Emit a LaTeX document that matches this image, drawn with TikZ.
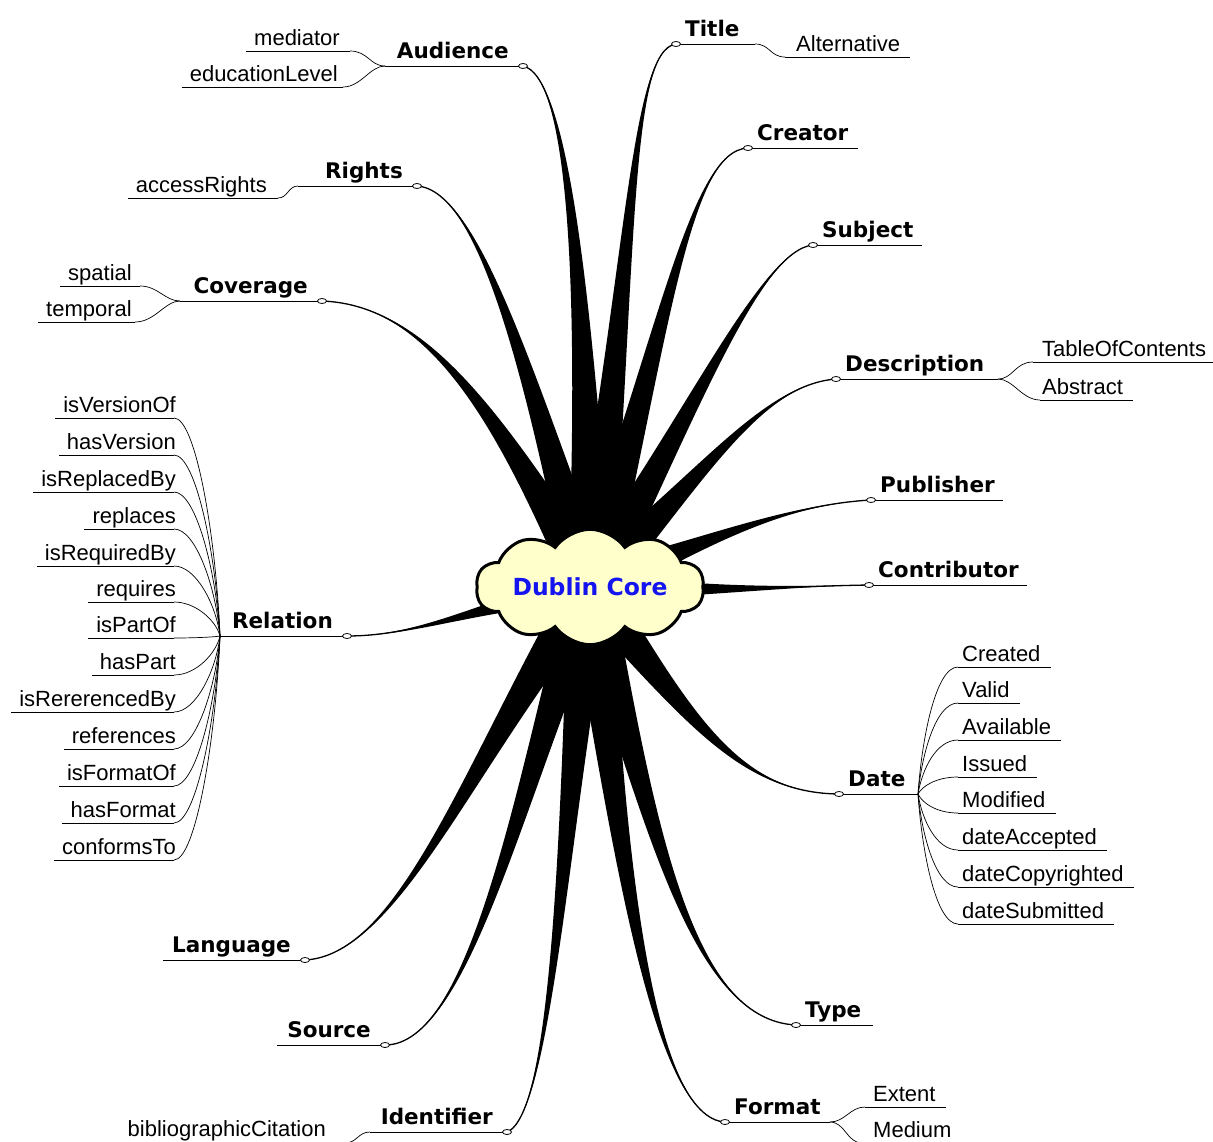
\documentclass[tikz,border=0pt]{standalone}
\usepackage{fontspec}
\setmainfont{Liberation Sans}
\newfontfamily\headfont{DejaVu Sans}
\usetikzlibrary{calc,shapes.symbols}

\definecolor{cloudyellow}{RGB}{255,255,204}
\definecolor{coreblue}{RGB}{20,20,240}

\tikzset{
  head/.style={font=\headfont\bfseries\fontsize{21.5}{24}\selectfont, inner sep=0pt},
  leaf/.style={font=\fontsize{22}{24}\selectfont, inner sep=0pt},
  uline/.style={line width=0.9pt},
  twig/.style={line width=0.7pt},
  knob/.style={draw, fill=white, line width=0.8pt},
}

% tapered spike from #1 to #4 with controls #2 and #3, half width #5
\newcommand{\drawspike}[5]{%
  \fill ($(#1)!#5!90:(#2)$) .. controls ($(#2)!0.2*#5!-90:(#1)$) and (#3) .. (#4)
    .. controls (#3) and ($(#2)!0.2*#5!90:(#1)$) .. ($(#1)!#5!-90:(#2)$) -- cycle;
  \draw[line width=1.3pt] (#1) .. controls (#2) and (#3) .. (#4);
}

\begin{document}
\begin{tikzpicture}[x=1pt,y=-1pt]
\useasboundingbox (0,0) rectangle (1213,1141);
\coordinate (core) at (590,587);

% knob and fork point of every term
\foreach \name/\kx/\ky/\fx in {title/676/44/755, creator/748/148/858,
    subject/813/245/922, description/836/379/998, publisher/871/500/1003,
    contributor/869/585/1027, date/839/794/918, type/796/1025/873,
    format/725/1122/830, audience/523/66/385, rights/417/186/298,
    coverage/322/301/180, relation/347/636/220, language/305/960/163,
    source/385/1045/277, identifier/507/1132/370} {
  \coordinate (\name-k) at (\kx,\ky);
  \coordinate (\name-f) at (\fx,\ky);
}

% spikes
\drawspike{core}{632,260}{630,50}{title-k}{22pt}
\drawspike{core}{585,260}{565,75}{audience-k}{22pt}
\drawspike{core}{665,330}{690,150}{creator-k}{22pt}
\drawspike{core}{690,420}{760,250}{subject-k}{22pt}
\drawspike{core}{700,480}{760,385}{description-k}{22pt}
\drawspike{core}{700,545}{780,505}{publisher-k}{20pt}
\drawspike{core}{720,592}{800,586}{contributor-k}{14pt}
\drawspike{core}{690,720}{740,793}{date-k}{22pt}
\drawspike{core}{650,820}{690,1020}{type-k}{22pt}
\drawspike{core}{620,870}{655,1118}{format-k}{22pt}
\drawspike{core}{565,820}{552,1115}{identifier-k}{22pt}
\drawspike{core}{520,790}{470,1045}{source-k}{22pt}
\drawspike{core}{470,760}{400,955}{language-k}{22pt}
\drawspike{core}{480,605}{420,636}{relation-k}{16pt}
\drawspike{core}{500,420}{430,305}{coverage-k}{22pt}
\drawspike{core}{530,380}{480,190}{rights-k}{22pt}

\node[cloud, cloud puffs=10, cloud puff arc=110, aspect=2.6, draw, line width=3pt,
  fill=cloudyellow, minimum width=228pt, minimum height=88pt, inner sep=0pt,
  font=\headfont\bfseries\fontsize{23.5}{26}\selectfont, text=coreblue] (dc) at (core) {Dublin Core};

% main terms
\foreach \name/\txt/\anc/\dx in {title/Title/west/9, creator/Creator/west/9,
    subject/Subject/west/9, description/Description/west/9,
    publisher/Publisher/west/9, contributor/Contributor/west/9,
    date/Date/west/9, type/Type/west/9, format/Format/west/9,
    audience/Audience/east/-14, rights/Rights/east/-14,
    coverage/Coverage/east/-14, relation/Relation/east/-14,
    language/Language/east/-14, source/Source/east/-14,
    identifier/Identifier/east/-14} {
  \draw[uline] (\name-f) -- (\name-k);
  \draw[knob] (\name-k) ellipse [x radius=4.5pt, y radius=2.5pt];
  \node[head, anchor=base \anc] (\name) at ($(\name-k)+(\dx,-8)$) {\txt};
}

% Relation refinements
\foreach \txt/\y [count=\i] in {isVersionOf/418, hasVersion/455, isReplacedBy/492,
    replaces/529, isRequiredBy/566, requires/602, isPartOf/638, hasPart/675,
    isRererencedBy/712, references/749, isFormatOf/786, hasFormat/823,
    conformsTo/860} {
  \node[leaf, anchor=base east] (rel\i) at (176,\y-6) {\txt};
  \draw[uline] ($(rel\i.base west)+(-8,6)$) -- (174,\y) coordinate (rel\i-e);
  \draw[twig] (rel\i-e) .. controls +(22,0) and (216,{\y+0.55*(636-\y)}) .. (relation-f);
}

% Date refinements
\foreach \txt/\y [count=\i] in {Created/667, Valid/703, Available/740, Issued/777,
    Modified/813, dateAccepted/850, dateCopyrighted/887, dateSubmitted/924} {
  \node[leaf, anchor=base west] (dt\i) at (962,\y-6) {\txt};
  \coordinate (dt\i-s) at (958,\y);
  \draw[uline] (dt\i-s) -- ($(dt\i.base east)+(10,6)$);
  \draw[twig] (date-f) .. controls (922,{794+0.45*(\y-794)}) and +(-22,0) .. (dt\i-s);
}

% Audience
\node[leaf, anchor=base east] (mediator) at (340,45) {mediator};
\draw[uline] ($(mediator.base west)+(-8,6)$) -- (350,51) coordinate (mediator-e);
\draw[twig] (mediator-e) .. controls +(18,0) and +(-15,0) .. (audience-f);
\node[leaf, anchor=base east] (edulevel) at (338,81) {educationLevel};
\draw[uline] ($(edulevel.base west)+(-8,6)$) -- (343,87) coordinate (edulevel-e);
\draw[twig] (edulevel-e) .. controls +(18,0) and +(-15,0) .. (audience-f);

% Rights
\node[leaf, anchor=base east] (access) at (267,192) {accessRights};
\draw[uline] ($(access.base west)+(-8,6)$) -- (278,198) coordinate (access-e);
\draw[twig] (access-e) .. controls +(10,0) and +(-10,0) .. (rights-f);

% Coverage
\node[leaf, anchor=base east] (spatial) at (132,280) {spatial};
\draw[uline] ($(spatial.base west)+(-8,6)$) -- (140,286) coordinate (spatial-e);
\draw[twig] (spatial-e) .. controls +(18,0) and +(-15,0) .. (coverage-f);
\node[leaf, anchor=base east] (temporal) at (132,316) {temporal};
\draw[uline] ($(temporal.base west)+(-8,6)$) -- (135,322) coordinate (temporal-e);
\draw[twig] (temporal-e) .. controls +(20,0) and +(-15,0) .. (coverage-f);

% Identifier
\node[leaf, anchor=base east] (bibcit) at (326,1136) {bibliographicCitation};
\draw[uline] ($(bibcit.base west)+(-8,7)$) -- (345,1143) coordinate (bibcit-e);
\draw[twig] (bibcit-e) .. controls +(12,0) and +(-12,0) .. (identifier-f);

% Title
\node[leaf, anchor=base west] (alt) at (796,51) {Alternative};
\coordinate (alt-s) at (785,57);
\draw[uline] (alt-s) -- ($(alt.base east)+(10,6)$);
\draw[twig] (title-f) .. controls +(15,0) and +(-15,0) .. (alt-s);

% Description
\node[leaf, anchor=base west] (toc) at (1042,356) {TableOfContents};
\coordinate (toc-s) at (1033,362);
\draw[uline] (toc-s) -- ($(toc.base east)+(10,6)$);
\draw[twig] (description-f) .. controls +(15,0) and +(-18,0) .. (toc-s);
\node[leaf, anchor=base west] (abstract) at (1042,394) {Abstract};
\coordinate (abstract-s) at (1040,400);
\draw[uline] (abstract-s) -- ($(abstract.base east)+(10,6)$);
\draw[twig] (description-f) .. controls +(15,0) and +(-18,0) .. (abstract-s);

% Format
\node[leaf, anchor=base west] (extent) at (873,1101) {Extent};
\coordinate (extent-s) at (865,1107);
\draw[uline] (extent-s) -- ($(extent.base east)+(10,6)$);
\draw[twig] (format-f) .. controls +(15,0) and +(-15,0) .. (extent-s);
\node[leaf, anchor=base west] (medium) at (873,1137) {Medium};
\coordinate (medium-s) at (862,1143);
\draw[uline] (medium-s) -- ($(medium.base east)+(10,6)$);
\draw[twig] (format-f) .. controls +(15,0) and +(-15,0) .. (medium-s);
\end{tikzpicture}
\end{document}
